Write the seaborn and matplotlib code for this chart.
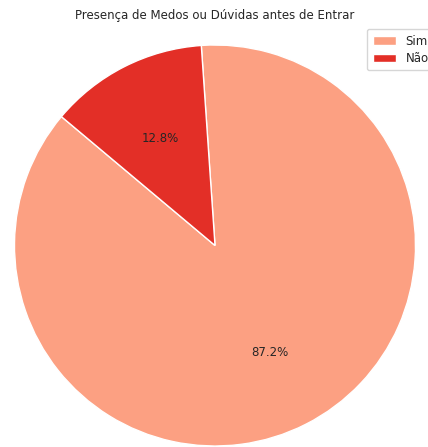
import matplotlib
matplotlib.use("Agg")
import matplotlib.pyplot as plt
import seaborn as sns

categories = ["Sim", "Não"]
values = [87.2, 12.8]
title = "Presença de Medos ou Dúvidas antes de Entrar"

sns.set_theme(style="white")
plt.rcParams['font.family'] = ['DejaVu Sans']

colors = ["#fca082", "#e32f27"]

fig = plt.figure(figsize=(4.28, 4.47), dpi=100)
W, H = 428, 447
cx, cy, r = 215, 245.5, 200.5
ax = fig.add_axes([(cx - r) / W, (H - cy - r) / H, 2 * r / W, 2 * r / H])
wedges, texts, autotexts = ax.pie(values, labels=None, colors=colors, autopct="%1.1f%%",
                                  startangle=140, wedgeprops=dict(edgecolor="white", linewidth=1),
                                  textprops=dict(fontsize=8.5, color="#262626"))
ax.set_xlim(-1, 1)
ax.set_ylim(-1, 1)
ax.set_aspect("equal")
ax.axis("off")
for w in wedges:
    w.set_clip_on(False)

fig.text(215 / W, 1 - 15 / H, title, ha="center", va="center", fontsize=8.5, color="#262626")
fig.legend(wedges, categories, loc="upper left", bbox_to_anchor=(367 / W, 1 - 29 / H),
           bbox_transform=fig.transFigure, borderaxespad=0, fontsize=8.5, frameon=True,
           borderpad=0.48, labelspacing=0.35)

fig.savefig("out.png", dpi=100)
